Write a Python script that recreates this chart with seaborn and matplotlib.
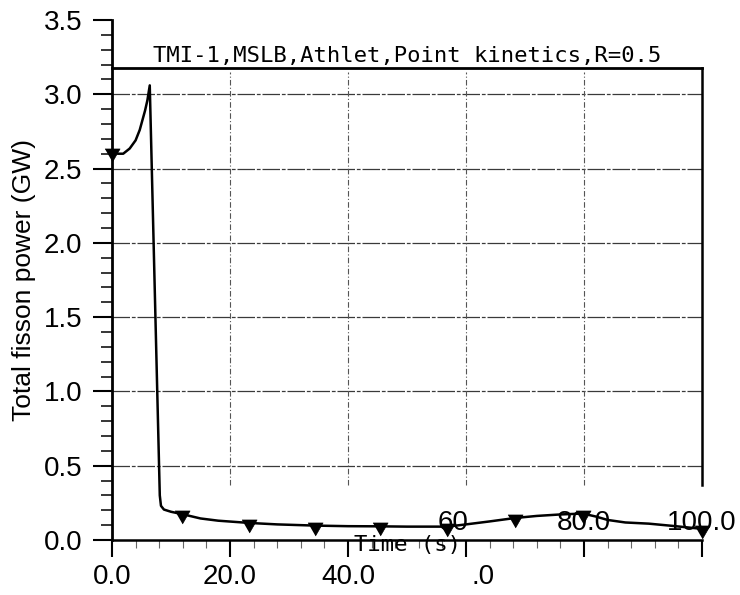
import numpy as np
import pandas as pd
import matplotlib
matplotlib.use("Agg")
import matplotlib.pyplot as plt
from matplotlib.ticker import MultipleLocator, FixedLocator, FixedFormatter
import seaborn as sns

# Total fission power transient (main steam line break, point kinetics)
time_s = [0.0, 1.0, 1.9, 3.0, 4.0, 4.7, 5.6, 6.0, 6.4, 8.1, 8.3, 8.8, 10.0,
          11.8, 15.0, 18.0, 23.2, 28.0, 34.4, 40.0, 45.4, 50.0, 56.8, 60.0,
          64.0, 68.3, 72.0, 76.0, 79.8, 82.0, 84.0, 87.0, 91.0, 95.0, 100.0]
power_gw = [2.61, 2.60, 2.60, 2.635, 2.69, 2.76, 2.89, 2.96, 3.06, 0.30, 0.23,
            0.205, 0.19, 0.175, 0.145, 0.13, 0.115, 0.105, 0.097, 0.093,
            0.092, 0.09, 0.09, 0.105, 0.125, 0.148, 0.162, 0.172, 0.178,
            0.158, 0.135, 0.118, 0.11, 0.095, 0.075]
marker_times = [0.0, 11.8, 23.2, 34.4, 45.4, 56.8, 68.3, 79.8, 100.0]

title_text = "TMI-1,MSLB,Athlet,Point kinetics,R=0.5"
y_label = "Total fisson power (GW)"
x_label = "Time (s)"
y_ticks = [0.0, 0.5, 1.0, 1.5, 2.0, 2.5, 3.0, 3.5]
y_tick_labels = ["0.0", "0.5", "1.0", "1.5", "2.0", "2.5", "3.0", "3.5"]
x_ticks = [0, 20, 40, 60, 80, 100]
x_tick_labels_low = ["0.0", "20.0", "40.0", "", "", ""]
x_tick_labels_high = {60: "60", 80: "80.0", 100: "100.0"}

df = pd.DataFrame({"time": time_s, "power": power_gw})
mark_idx = [time_s.index(t) for t in marker_times]

sns.set_theme(style="ticks")
plt.rcParams["font.family"] = ["Liberation Sans", "DejaVu Sans"]
plt.rcParams["axes.linewidth"] = 1.8
mono = ["DejaVu Sans Mono", "DejaVu Sans"]

fig = plt.figure(figsize=(7.4, 5.95), dpi=100)
fig.patch.set_facecolor("white")
ax = fig.add_axes([112 / 740, 55 / 595, 590 / 740, 520 / 595])
ax.set_facecolor("white")

frame_top = 3.18
frame_low = 0.37

# grid
ax.hlines([v for v in y_ticks if 0 < v < frame_top], 0, 100, colors="#3a3a3a",
          linewidth=0.9, linestyles=(0, (14, 1.5, 3, 1.5)), zorder=1)
ax.vlines([v for v in x_ticks if 0 < v < 100], frame_low, frame_top - 0.03,
          colors="#555555", linewidth=0.8, linestyles=(0, (5, 2, 1, 2)), zorder=1)

# downward-triangle marker, line crossing its upper part
tri = [(-7.5, 3.5), (7.5, 3.5), (0.0, -9.5)]
sns.lineplot(data=df, x="time", y="power", ax=ax, color="black", linewidth=1.8,
             errorbar=None, sort=False, marker=tri, markevery=mark_idx,
             markersize=13.7, markerfacecolor="black", markeredgecolor="black",
             markeredgewidth=0.5, zorder=3)
for ln in ax.lines:
    ln.set_clip_on(False)

ax.set_xlim(0, 100)
ax.set_ylim(0, 3.5)
ax.set_xlabel("")

# frame
for side in ["left", "bottom", "top", "right"]:
    ax.spines[side].set_visible(True)
    ax.spines[side].set_color("black")
ax.spines["top"].set_position(("data", frame_top))
ax.spines["top"].set_linewidth(2.0)
ax.spines["right"].set_bounds(frame_low, frame_top)
ax.spines["right"].set_linewidth(1.8)
ax.spines["left"].set_linewidth(2.0)
ax.spines["bottom"].set_linewidth(1.8)

# y axis ticks
ax.yaxis.set_major_locator(FixedLocator(y_ticks))
ax.yaxis.set_major_formatter(FixedFormatter(y_tick_labels))
ax.yaxis.set_minor_locator(MultipleLocator(0.1))
ax.tick_params(axis="y", which="major", direction="out", length=14, width=1.5,
               pad=7.5, labelsize=20, colors="black")
ax.tick_params(axis="y", which="minor", direction="out", length=8, width=1.1,
               colors="black")

# x axis ticks
ax.xaxis.set_major_locator(FixedLocator(x_ticks))
ax.xaxis.set_major_formatter(FixedFormatter(x_tick_labels_low))
ax.xaxis.set_minor_locator(MultipleLocator(4))
ax.tick_params(axis="x", which="major", direction="out", length=12, width=1.5,
               pad=5, labelsize=20, colors="black")
ax.tick_params(axis="x", which="minor", direction="out", length=6, width=0.8,
               colors="#666666")

# stray pieces of the x tick labels
ax.annotate(".0", xy=(61.0, 0), xycoords=("data", "axes fraction"),
            xytext=(0, -17), textcoords="offset points", ha="left", va="top",
            fontsize=20, color="black")
for xv, lab in x_tick_labels_high.items():
    ax.text(xv + (0.4 if lab == "60" else 0), 0.07, lab,
            ha="right" if lab == "60" else "center", va="baseline",
            fontsize=20, color="black", zorder=4)

# axis titles
ax.set_ylabel(y_label, fontsize=19, color="black")
ax.yaxis.set_label_coords(-0.128, 0.5)
ax.annotate(x_label, xy=(50, 0), xycoords=("data", "axes fraction"),
            xytext=(0, -8), textcoords="offset points", ha="center",
            va="baseline", fontsize=16, family=mono, color="black", zorder=4)

ax.text(50, 3.22, title_text, ha="center", va="baseline", fontsize=16,
        family=mono, color="black")

fig.savefig("out.png", dpi=100, facecolor="white")
